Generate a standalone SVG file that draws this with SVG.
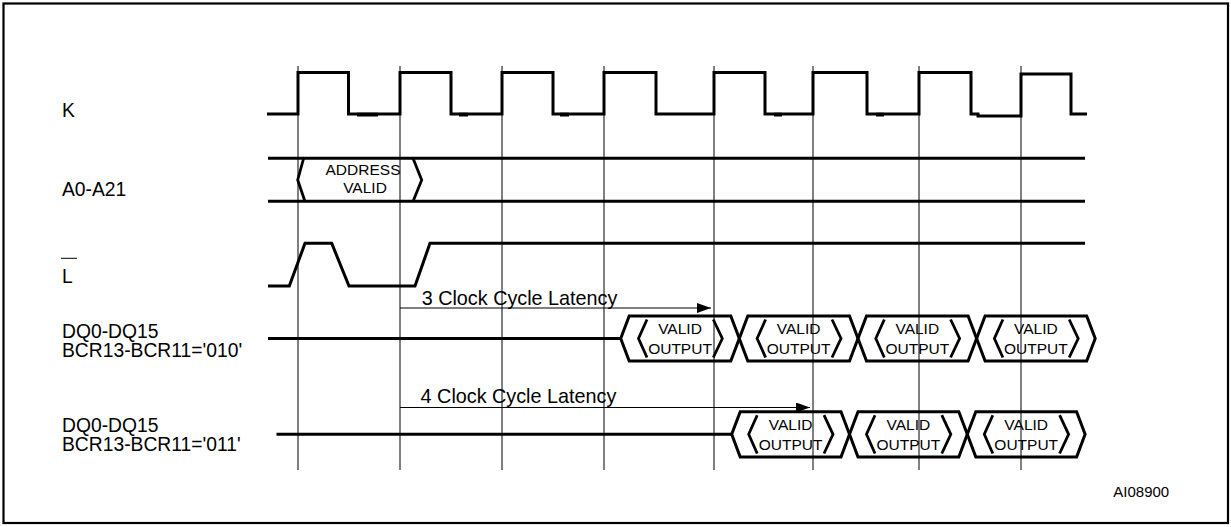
<svg xmlns="http://www.w3.org/2000/svg" width="1231" height="527" viewBox="0 0 1231 527">
<style>
.sig{fill:none;stroke:#000;stroke-width:3;stroke-linejoin:miter}
.br{fill:none;stroke:#000;stroke-width:2.8}
.grid{stroke:#000;stroke-width:1}
.arr{stroke:#000;stroke-width:1.2}
.lbl{font-family:"Liberation Sans",Arial,sans-serif;font-size:19.3px;fill:#000}
.lat{font-family:"Liberation Sans",Arial,sans-serif;font-size:19.8px;fill:#000}
.in{font-family:"Liberation Sans",Arial,sans-serif;font-size:15.5px;fill:#000;text-anchor:middle}
.id{font-family:"Liberation Sans",Arial,sans-serif;font-size:15px;fill:#000}
</style>
<defs>
<marker id="ah" viewBox="0 0 14 10" refX="14" refY="5" markerWidth="14" markerHeight="10" markerUnits="userSpaceOnUse" orient="auto">
<path d="M0,0 L14,5 L0,10 Z" fill="#000"/>
</marker>
</defs>
<rect x="3.5" y="3.5" width="1224.5" height="519.5" fill="#fff" stroke="#000" stroke-width="2.2"/>

<g id="grid">
<line class="grid" x1="298" y1="66" x2="298" y2="470"/>
<line class="grid" x1="400" y1="66" x2="400" y2="470"/>
<line class="grid" x1="502" y1="66" x2="502" y2="470"/>
<line class="grid" x1="604" y1="66" x2="604" y2="470"/>
<line class="grid" x1="714" y1="66" x2="714" y2="470"/>
<line class="grid" x1="813" y1="66" x2="813" y2="470"/>
<line class="grid" x1="919" y1="66" x2="919" y2="470"/>
<line class="grid" x1="1021" y1="66" x2="1021" y2="470"/>
</g>

<g id="sig-K">
<text class="lbl" x="62" y="116.7">K</text>
<path class="sig" d="M267,114 H298 V72.5 H348.5 V114 H400 V72.5 H451 V114 H502 V72.5 H553 V114 H604 V72.5 H656 V114 H714 V72.5 H765 V114 H813 V72.5 H867 V114 H919 V72.5 H971 V114 H978 V116 H1021 V74 H1071 V114 H1087"/>
<path d="M357,114.6 H378 M459,114.6 H468 M560,114.6 H569 M774,114.6 H782 M876,114.6 H884" stroke="#000" stroke-width="3.6" fill="none"/>
</g>

<g id="sig-A">
<text class="lbl" x="62" y="195.7">A0-A21</text>
<path class="sig" d="M268,158.3 H1085 M268,201.2 H1085"/>
<path class="br" d="M304,157 L297.7,180 L305,201.5 M413,158.3 L421.7,180 L413,201.5"/>
<text class="in" x="363" y="175">ADDRESS</text>
<text class="in" x="365" y="193.3">VALID</text>
</g>

<g id="sig-L">
<text class="lbl" x="62" y="283">L</text>
<line x1="61" y1="258.3" x2="77" y2="258.3" stroke="#000" stroke-width="1"/>
<path class="sig" d="M268,286 H289.3 L305,243.3 H331.7 L349,286 H415 L430,243.3 H1085"/>
</g>

<g id="sig-DQ1">
<text class="lbl" x="62" y="337.8">DQ0-DQ15</text>
<text class="lbl" x="62" y="356.7">BCR13-BCR11='010'</text>
<path class="sig" d="M268,338.5 H620.7"/>
<g id="dq1-c1">
<path class="sig" d="M620.7,338.5 L629.2,316 H730.8 L739.3,338.5 L730.8,361 H629.2 Z"/>
<path class="br" d="M647,319.5 L638.5,338.5 L647,357.5 M713.3,319.5 L722.3,338.5 L713.3,357.5"/>
<text class="in" x="680" y="334">VALID</text>
<text class="in" x="680" y="354">OUTPUT</text>
</g>
<g id="dq1-c2">
<path class="sig" d="M739.3,338.5 L747.8,316 H849.5 L858,338.5 L849.5,361 H747.8 Z"/>
<path class="br" d="M765.6,319.5 L757.1,338.5 L765.6,357.5 M832,319.5 L841,338.5 L832,357.5"/>
<text class="in" x="798.6" y="334">VALID</text>
<text class="in" x="798.6" y="354">OUTPUT</text>
</g>
<g id="dq1-c3">
<path class="sig" d="M858,338.5 L866.5,316 H968.1 L976.6,338.5 L968.1,361 H866.5 Z"/>
<path class="br" d="M884.3,319.5 L875.8,338.5 L884.3,357.5 M950.6,319.5 L959.6,338.5 L950.6,357.5"/>
<text class="in" x="917.3" y="334">VALID</text>
<text class="in" x="917.3" y="354">OUTPUT</text>
</g>
<g id="dq1-c4">
<path class="sig" d="M976.6,338.5 L985.1,316 H1086.7 L1095.2,338.5 L1086.7,361 H985.1 Z"/>
<path class="br" d="M1002.9,319.5 L994.4,338.5 L1002.9,357.5 M1069.2,319.5 L1078.2,338.5 L1069.2,357.5"/>
<text class="in" x="1035.9" y="334">VALID</text>
<text class="in" x="1035.9" y="354">OUTPUT</text>
</g>
</g>

<g id="sig-DQ2">
<text class="lbl" x="62" y="432.2">DQ0-DQ15</text>
<text class="lbl" x="62" y="451">BCR13-BCR11='011'</text>
<path class="sig" d="M276.5,434.3 H731.7"/>
<g id="dq2-c1">
<path class="sig" d="M731.7,434.3 L740.2,411.7 H841 L849.5,434.3 L841,457 H740.2 Z"/>
<path class="br" d="M757.2,415.2 L748.7,434.3 L757.2,453.5 M824,415.2 L833,434.3 L824,453.5"/>
<text class="in" x="790.6" y="429.5">VALID</text>
<text class="in" x="790.6" y="449.5">OUTPUT</text>
</g>
<g id="dq2-c2">
<path class="sig" d="M849.5,434.3 L858,411.7 H958.8 L967.3,434.3 L958.8,457 H858 Z"/>
<path class="br" d="M875,415.2 L866.5,434.3 L875,453.5 M941.8,415.2 L950.8,434.3 L941.8,453.5"/>
<text class="in" x="908.4" y="429.5">VALID</text>
<text class="in" x="908.4" y="449.5">OUTPUT</text>
</g>
<g id="dq2-c3">
<path class="sig" d="M967.3,434.3 L975.8,411.7 H1076.6 L1085.1,434.3 L1076.6,457 H975.8 Z"/>
<path class="br" d="M992.8,415.2 L984.3,434.3 L992.8,453.5 M1059.6,415.2 L1068.6,434.3 L1059.6,453.5"/>
<text class="in" x="1026.2" y="429.5">VALID</text>
<text class="in" x="1026.2" y="449.5">OUTPUT</text>
</g>
</g>

<g id="connectors">
<line class="arr" x1="400" y1="308" x2="711" y2="308" marker-end="url(#ah)"/>
<text class="lat" x="421.7" y="305">3 Clock Cycle Latency</text>
<line class="arr" x1="400" y1="407.5" x2="810" y2="407.5" marker-end="url(#ah)"/>
<text class="lat" x="420.6" y="403">4 Clock Cycle Latency</text>
</g>

<text class="id" x="1113.3" y="496.7">AI08900</text>
</svg>
